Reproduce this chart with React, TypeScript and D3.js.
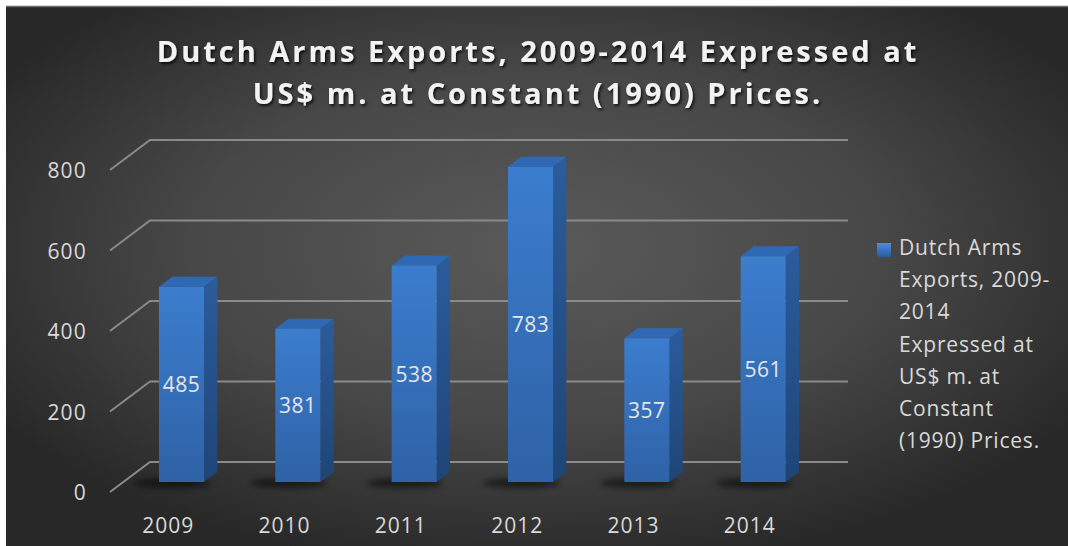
import React from "react";
import * as d3 from "d3";

const years: string[] = ["2009", "2010", "2011", "2012", "2013", "2014"];
const values: number[] = [485, 381, 538, 783, 357, 561];
const yTicks: number[] = [0, 200, 400, 600, 800];
const titleLines: string[] = ["Dutch Arms Exports, 2009-2014 Expressed at", "US$ m. at Constant (1990) Prices."];
const legendLines: string[] = ["Dutch Arms", "Exports, 2009-", "2014", "Expressed at", "US$ m. at", "Constant", "(1990) Prices."];

const W = 1068;
const H = 546;
const FONT = "'Open Sans', 'DejaVu Sans', sans-serif";

// back wall geometry
const x = d3.scaleBand<string>().domain(years).range([150, 848]).padding(0);
const y = d3.scaleLinear().domain([0, 800]).range([462, 140]);
const DX = -40; // shift from back plane to front plane
const DY = 30;
const proj = (xb: number, v: number, d: number): [number, number] => [xb + DX * d, y(v) + DY * d];

export default function App() {
  const bw = x.bandwidth() * 0.387;
  return (
    <svg width={W} height={H} style={{ position: "absolute", left: 0, top: 0 }}>
      <defs>
        <radialGradient id="bg" cx="50%" cy="45%" r="60%">
          <stop offset="0%" stopColor="#5a5a5a" />
          <stop offset="55%" stopColor="#474747" />
          <stop offset="100%" stopColor="#282828" />
        </radialGradient>
        <linearGradient id="front" x1="0" y1="0" x2="0" y2="1">
          <stop offset="0%" stopColor="#3b7dce" />
          <stop offset="100%" stopColor="#2f62a6" />
        </linearGradient>
        <linearGradient id="side" x1="0" y1="0" x2="0" y2="1">
          <stop offset="0%" stopColor="#2b5c9c" />
          <stop offset="100%" stopColor="#1f4577" />
        </linearGradient>
        <linearGradient id="legm" x1="0" y1="0" x2="0" y2="1">
          <stop offset="0%" stopColor="#4a8de0" />
          <stop offset="100%" stopColor="#2a5a9c" />
        </linearGradient>
        <filter id="tshadow" x="-5%" y="-20%" width="110%" height="150%">
          <feDropShadow dx="1.5" dy="2" stdDeviation="1.5" floodColor="#000" floodOpacity="0.8" />
        </filter>
        <filter id="blur" x="-50%" y="-200%" width="200%" height="500%">
          <feGaussianBlur stdDeviation="3" />
        </filter>
      </defs>
      <rect x={6} y={6} width={W - 6} height={H - 6} fill="url(#bg)" />
      <line x1={6} x2={W} y1={6.5} y2={6.5} stroke="#6a6a6a" strokeWidth={1.5} />

      {/* title */}
      {titleLines.map((t, i) => (
        <text key={i} x={538} y={62 + i * 41.5} textAnchor="middle" fill="#f2f2f2" fontFamily={FONT}
          fontWeight={700} fontSize={29} letterSpacing={3} filter="url(#tshadow)">{t}</text>
      ))}

      {/* gridlines */}
      {yTicks.map((t) => {
        const [fx, fy] = proj(150, t, 1);
        return (
          <g key={t}>
            <path d={`M${fx},${fy}L150,${y(t)}L848,${y(t)}`} fill="none" stroke="#8a8a8a" strokeWidth={2} />
            <text x={87} y={fy} textAnchor="end" dominantBaseline="central" fill="#d9d9d9"
              fontFamily={FONT} fontSize={21} letterSpacing={1.2}>{t}</text>
          </g>
        );
      })}

      {/* bars */}
      {years.map((yr, i) => {
        const v = values[i];
        const cb = (x(yr) as number) + x.bandwidth() / 2;
        const [fx0, fyB] = proj(cb - bw / 2, 0, 2 / 3);
        const [, fyT] = proj(cb - bw / 2, v, 2 / 3);
        const fx1 = fx0 + bw;
        const ox = -DX / 3;
        const oy = -DY / 3;
        return (
          <g key={yr}>
            <ellipse cx={fx0 + bw * 0.3} cy={fyB + 1} rx={bw * 0.85} ry={5} fill="#000" opacity={0.55} filter="url(#blur)" />
            <path d={`M${fx1},${fyT}L${fx1 + ox},${fyT + oy}L${fx1 + ox},${fyB + oy}L${fx1},${fyB}Z`} fill="url(#side)" />
            <path d={`M${fx0},${fyT}L${fx0 + ox},${fyT + oy}L${fx1 + ox},${fyT + oy}L${fx1},${fyT}Z`} fill="#2f69b4" />
            <rect x={fx0} y={fyT} width={bw} height={fyB - fyT} fill="url(#front)" />
            <text x={fx0 + bw / 2} y={(fyT + fyB) / 2} textAnchor="middle" dominantBaseline="central"
              fill="#e6e6e6" fontFamily={FONT} fontSize={21} letterSpacing={0.5}>{v}</text>
            <text x={cb + DX} y={525} textAnchor="middle" dominantBaseline="central" fill="#d9d9d9"
              fontFamily={FONT} fontSize={21} letterSpacing={1}>{yr}</text>
          </g>
        );
      })}

      {/* legend */}
      <rect x={877} y={243} width={14} height={14} fill="url(#legm)" />
      {legendLines.map((t, i) => (
        <text key={i} x={899} y={255 + i * 32.2} fill="#d9d9d9" fontFamily={FONT} fontSize={21} letterSpacing={0.8}>{t}</text>
      ))}
    </svg>
  );
}
